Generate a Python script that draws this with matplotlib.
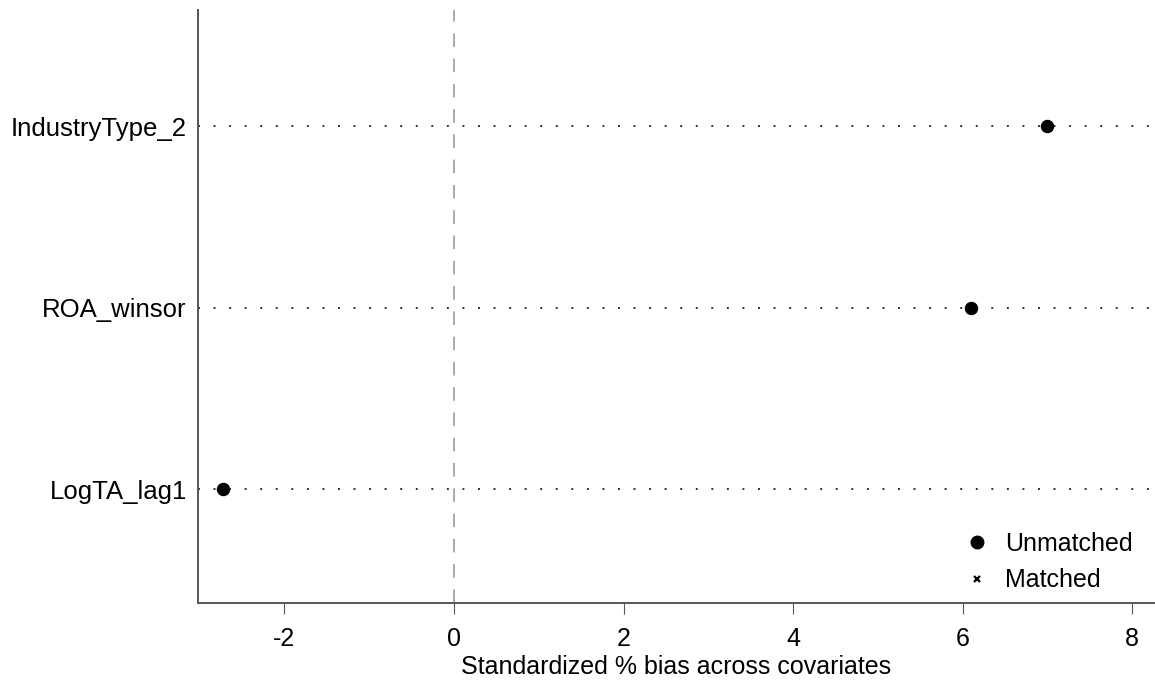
import matplotlib.pyplot as plt
from matplotlib.lines import Line2D

plt.rcParams['font.family'] = ['Liberation Sans', 'DejaVu Sans']
plt.rcParams['axes.unicode_minus'] = False

covariates = ["LogTA_lag1", "ROA_winsor", "IndustryType_2"]
unmatched = [-2.73, 6.10, 7.00]
positions = [1, 2, 3]

fig = plt.figure(figsize=(11.55, 6.82), dpi=100)
ax = fig.add_axes([0.1714, 0.1158, 0.8286, 0.8695])

for y in positions:
    ax.axhline(y, color="#333333", linestyle=(0, (1, 7)), linewidth=1.4, zorder=1)
ax.axvline(0, color="#aaaaaa", linestyle=(0, (7, 6)), linewidth=1.4, zorder=1)

ax.scatter(unmatched, positions, s=75, color="black", zorder=3)

ax.set_xlim(-3.02, 8.27)
ax.set_ylim(0.372, 3.64)
ax.set_xticks([-2, 0, 2, 4, 6, 8])
ax.set_yticks(positions)
ax.set_yticklabels(covariates, fontsize=18.5)
ax.set_xlabel("Standardized % bias across covariates", fontsize=18, labelpad=3)

ax.tick_params(axis="x", labelsize=18, length=8, color="#555555", pad=9)
ax.tick_params(axis="y", length=0, pad=8)
for s in ["top", "right"]:
    ax.spines[s].set_visible(False)
for s in ["left", "bottom"]:
    ax.spines[s].set_color("#555555")
    ax.spines[s].set_linewidth(1.4)

handles = [
    Line2D([], [], marker="o", color="black", linestyle="none", markersize=9, label="Unmatched"),
    Line2D([], [], marker="x", color="black", linestyle="none", markersize=4.5, markeredgewidth=1.6, label="Matched"),
]
ax.legend(handles=handles, loc="lower right", frameon=False, fontsize=18,
          handletextpad=0.1, labelspacing=0.5, bbox_to_anchor=(1.0, -0.02))

fig.savefig("out.png", dpi=100)
